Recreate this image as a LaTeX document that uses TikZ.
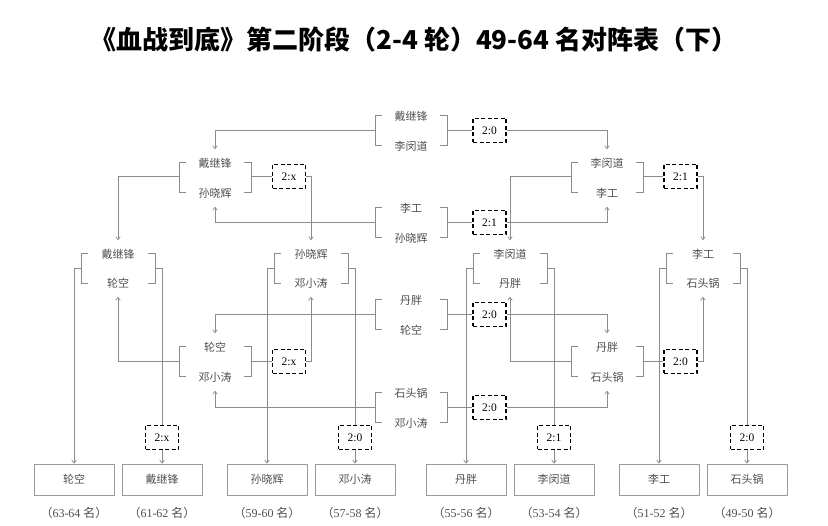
\documentclass[tikz,border=0pt]{standalone}
\usepackage{fontspec}
\setmainfont{Liberation Serif}
\newfontfamily\cjk{Noto Sans CJK SC}
\usetikzlibrary{arrows.meta}
\definecolor{linegray}{HTML}{8C8C8C}
\definecolor{namegray}{HTML}{505050}
\definecolor{boxgray}{HTML}{9A9A9A}
\newcommand\pairbr[4]{%
  \draw[ln] ({#1-#4+7},{#2-1}) -- ({#1-#4},{#2-1}) -- ({#1-#4},{#3-1}) -- ({#1-#4+7},{#3-1});
  \draw[ln] ({#1+#4-7},{#2-1}) -- ({#1+#4},{#2-1}) -- ({#1+#4},{#3-1}) -- ({#1+#4-7},{#3-1});}
\begin{document}
\begin{tikzpicture}[x=1pt,y=-1pt,
  ln/.style={draw=linegray, line width=0.7pt},
  arr/.style={ln, -{Straight Barb[length=3pt,width=4.5pt]}},
  nm/.style={font=\cjk\fontsize{11}{12}\selectfont, text=namegray, inner sep=0pt, minimum height=27pt, minimum width=10pt},
  score/.style={draw=black, dash pattern=on 4pt off 2.5pt, line width=1.2pt, minimum width=33pt, minimum height=24pt, inner sep=0pt, font=\fontsize{11.5}{12}\selectfont},
  fin/.style={draw=boxgray, line width=0.8pt, minimum width=80pt, minimum height=31pt, inner sep=0pt, font=\cjk\fontsize{11}{12}\selectfont, text=namegray},
  rk/.style={font=\fontsize{12}{13}\selectfont, text=namegray}
]
\useasboundingbox (0,0) rectangle (828,526);
\fill[white] (0,0) rectangle (828,526);

% title
\node[font=\cjk\bfseries\fontsize{26}{30}\selectfont] (title) at (414,40) {《血战到底》第二阶段（2-4 轮）49-64 名对阵表（下）};

% ---------- middle column matches ----------
\node[nm] (A1) at (411,116) {戴继锋};
\node[nm] (A2) at (411,146) {李闵道};
\node[nm] (B1) at (411,208) {李工};
\node[nm] (B2) at (411,238) {孙晓辉};
\node[nm] (C1) at (411,300) {丹胖};
\node[nm] (C2) at (411,330) {轮空};
\node[nm] (D1) at (411,393) {石头锅};
\node[nm] (D2) at (411,423) {邓小涛};
\pairbr{411}{116}{146}{36}
\pairbr{411}{208}{238}{36}
\pairbr{411}{300}{330}{36}
\pairbr{411}{393}{423}{36}
\coordinate (A-l) at (375,130.5); \coordinate (A-r) at (447,130.5);
\coordinate (B-l) at (375,222.5); \coordinate (B-r) at (447,222.5);
\coordinate (C-l) at (375,314.5); \coordinate (C-r) at (447,314.5);
\coordinate (D-l) at (375,407.5); \coordinate (D-r) at (447,407.5);
\node[score] (sA) at (489.5,130.5) {2:0};
\node[score] (sB) at (489.5,222.5) {2:1};
\node[score] (sC) at (489.5,314.5) {2:0};
\node[score] (sD) at (489.5,407.5) {2:0};

% ---------- round 2 groups ----------
\node[nm] (LU1) at (215,163) {戴继锋};
\node[nm] (LU2) at (215,193) {孙晓辉};
\node[nm] (RU1) at (607,163) {李闵道};
\node[nm] (RU2) at (607,193) {李工};
\node[nm] (LL1) at (215,347) {轮空};
\node[nm] (LL2) at (215,377) {邓小涛};
\node[nm] (RL1) at (607,347) {丹胖};
\node[nm] (RL2) at (607,377) {石头锅};
\pairbr{215}{163}{193}{36}
\pairbr{607}{163}{193}{36}
\pairbr{215}{347}{377}{36}
\pairbr{607}{347}{377}{36}
\coordinate (LU-l) at (179,176.5); \coordinate (LU-r) at (251,176.5);
\coordinate (RU-l) at (571,176.5); \coordinate (RU-r) at (643,176.5);
\coordinate (LL-l) at (179,361.5); \coordinate (LL-r) at (251,361.5);
\coordinate (RL-l) at (571,361.5); \coordinate (RL-r) at (643,361.5);
\node[score] (sLU) at (289,176.5) {2:x};
\node[score] (sRU) at (680.5,176.5) {2:1};
\node[score] (sLL) at (289,361.5) {2:x};
\node[score] (sRL) at (680.5,361.5) {2:0};

% ---------- round 3 groups ----------
\node[nm] (G1a) at (118,254) {戴继锋};
\node[nm] (G1b) at (118,283) {轮空};
\node[nm] (G2a) at (311,254) {孙晓辉};
\node[nm] (G2b) at (311,283) {邓小涛};
\node[nm] (G3a) at (510,254) {李闵道};
\node[nm] (G3b) at (510,283) {丹胖};
\node[nm] (G4a) at (703,254) {李工};
\node[nm] (G4b) at (703,283) {石头锅};
\pairbr{118}{254}{284}{37}
\pairbr{311}{254}{284}{37}
\pairbr{510}{254}{284}{37}
\pairbr{703}{254}{284}{37}
\coordinate (G1-l) at (81,268); \coordinate (G1-r) at (155,268);
\coordinate (G2-l) at (274,268); \coordinate (G2-r) at (348,268);
\coordinate (G3-l) at (473,268); \coordinate (G3-r) at (547,268);
\coordinate (G4-l) at (666,268); \coordinate (G4-r) at (740,268);
\node[score] (s1) at (162,437.5) {2:x};
\node[score] (s2) at (355,437.5) {2:0};
\node[score] (s3) at (554,437.5) {2:1};
\node[score] (s4) at (747,437.5) {2:0};

% ---------- final boxes ----------
\node[fin] (F1) at (74,479.5) {轮空};
\node[fin] (F2) at (162,479.5) {戴继锋};
\node[fin] (F3) at (267,479.5) {孙晓辉};
\node[fin] (F4) at (355,479.5) {邓小涛};
\node[fin] (F5) at (466,479.5) {丹胖};
\node[fin] (F6) at (554,479.5) {李闵道};
\node[fin] (F7) at (659,479.5) {李工};
\node[fin] (F8) at (747,479.5) {石头锅};
\node[rk] (R1) at (74,513) {{\cjk （}63-64 {\cjk 名）}};
\node[rk] (R2) at (162,513) {{\cjk （}61-62 {\cjk 名）}};
\node[rk] (R3) at (267,513) {{\cjk （}59-60 {\cjk 名）}};
\node[rk] (R4) at (355,513) {{\cjk （}57-58 {\cjk 名）}};
\node[rk] (R5) at (466,513) {{\cjk （}55-56 {\cjk 名）}};
\node[rk] (R6) at (554,513) {{\cjk （}53-54 {\cjk 名）}};
\node[rk] (R7) at (659,513) {{\cjk （}51-52 {\cjk 名）}};
\node[rk] (R8) at (747,513) {{\cjk （}49-50 {\cjk 名）}};

% ---------- connectors: middle matches ----------
\draw[arr] (A-l) -| (LU1);
\draw[ln] (A-r) -- (sA);
\draw[arr] (sA.east) -| (RU1);
\draw[arr] (B-l) -| (LU2);
\draw[ln] (B-r) -- (sB);
\draw[arr] (sB.east) -| (RU2);
\draw[arr] (C-l) -| (LL1);
\draw[ln] (C-r) -- (sC);
\draw[arr] (sC.east) -| (RL1);
\draw[arr] (D-l) -| (LL2);
\draw[ln] (D-r) -- (sD);
\draw[arr] (sD.east) -| (RL2);

% ---------- connectors: round 2 ----------
\draw[arr] (LU-l) -| (G1a);
\draw[ln] (LU-r) -- (sLU);
\draw[arr] (sLU.east) -| (G2a);
\draw[arr] (RU-l) -| (G3a);
\draw[ln] (RU-r) -- (sRU);
\draw[arr] (sRU.east) -| (G4a);
\draw[arr] (LL-l) -| (G1b);
\draw[ln] (LL-r) -- (sLL);
\draw[arr] (sLL.east) -| (G2b);
\draw[arr] (RL-l) -| (G3b);
\draw[ln] (RL-r) -- (sRL);
\draw[arr] (sRL.east) -| (G4b);

% ---------- connectors: round 3 ----------
\draw[arr] (G1-l) -| (F1);
\draw[ln] (G1-r) -| (s1);
\draw[arr] (s1) -- (F2);
\draw[arr] (G2-l) -| (F3);
\draw[ln] (G2-r) -| (s2);
\draw[arr] (s2) -- (F4);
\draw[arr] (G3-l) -| (F5);
\draw[ln] (G3-r) -| (s3);
\draw[arr] (s3) -- (F6);
\draw[arr] (G4-l) -| (F7);
\draw[ln] (G4-r) -| (s4);
\draw[arr] (s4) -- (F8);
\end{tikzpicture}
\end{document}
